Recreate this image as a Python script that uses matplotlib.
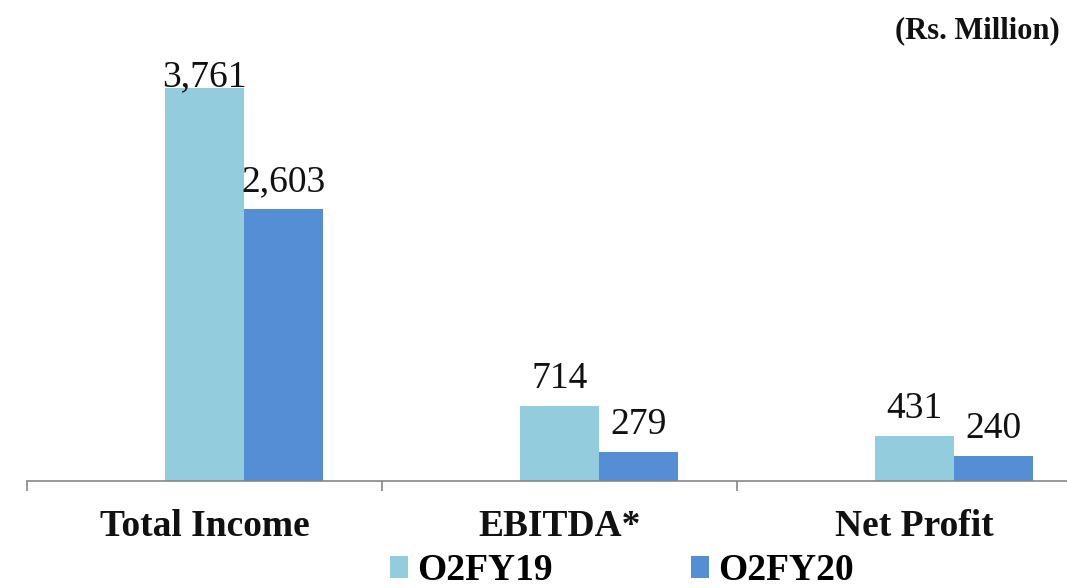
import matplotlib
matplotlib.use("Agg")
import matplotlib.pyplot as plt
from matplotlib.patches import Patch

categories = ["Total Income", "EBITDA*", "Net Profit"]
series = ["O2FY19", "O2FY20"]
q2fy19 = [3761, 714, 431]
q2fy20 = [2603, 279, 240]
colors = ["#93CDDD", "#558ED5"]

plt.rcParams["font.family"] = ["Liberation Serif", "DejaVu Serif"]

fig = plt.figure(figsize=(10.67, 5.88), dpi=100)
ax = fig.add_axes([27 / 1067, 107 / 588, 1 - 27 / 1067, 481 / 588])

w = 0.2225
x = list(range(len(categories)))
for off, vals, c in [(0.0, q2fy19, colors[0]), (w, q2fy20, colors[1])]:
    xs = [i + off for i in x]
    ax.bar(xs, vals, width=w, color=c, zorder=2)
    for xi, v in zip(xs, vals):
        # label sits ~18px above the bar, but never above the plot top
        ypos = min(v + 172, 3780)
        ax.text(xi, ypos, f"{v:,}", ha="center", va="baseline",
                fontsize=27, color="#111111")

for s in ["left", "right", "top"]:
    ax.spines[s].set_visible(False)
ax.spines["bottom"].set_color("#868686")
ax.spines["bottom"].set_linewidth(1.2)
ax.set_yticks([])
ax.set_xticks([-0.5, 0.5, 1.5, 2.5])
ax.set_xticklabels([])
ax.tick_params(axis="x", length=7, width=1.2, color="#868686")
ax.set_xlim(-0.5, 2.43)
ax.set_ylim(0, 4600)

for i, cat in enumerate(categories):
    ax.text(i, -0.1143, cat, transform=ax.get_xaxis_transform(), ha="center",
            va="baseline", fontsize=27, fontweight="bold", color="#111111")

fig.text(1060 / 1067, 1 - 31 / 588, "(Rs. Million)", ha="right", va="center",
         fontsize=22, fontweight="bold", color="#111111")

handles = [Patch(facecolor=c, edgecolor="none") for c in colors]
fig.legend(handles, series, loc="center", bbox_to_anchor=(622 / 1067, 1 - 571 / 588),
           ncol=2, frameon=False, handlelength=0.48, handleheight=0.53,
           handletextpad=0.24, columnspacing=3.7, borderpad=0, borderaxespad=0,
           prop={"size": 27, "weight": "bold"})

fig.savefig("out.png", dpi=100)
